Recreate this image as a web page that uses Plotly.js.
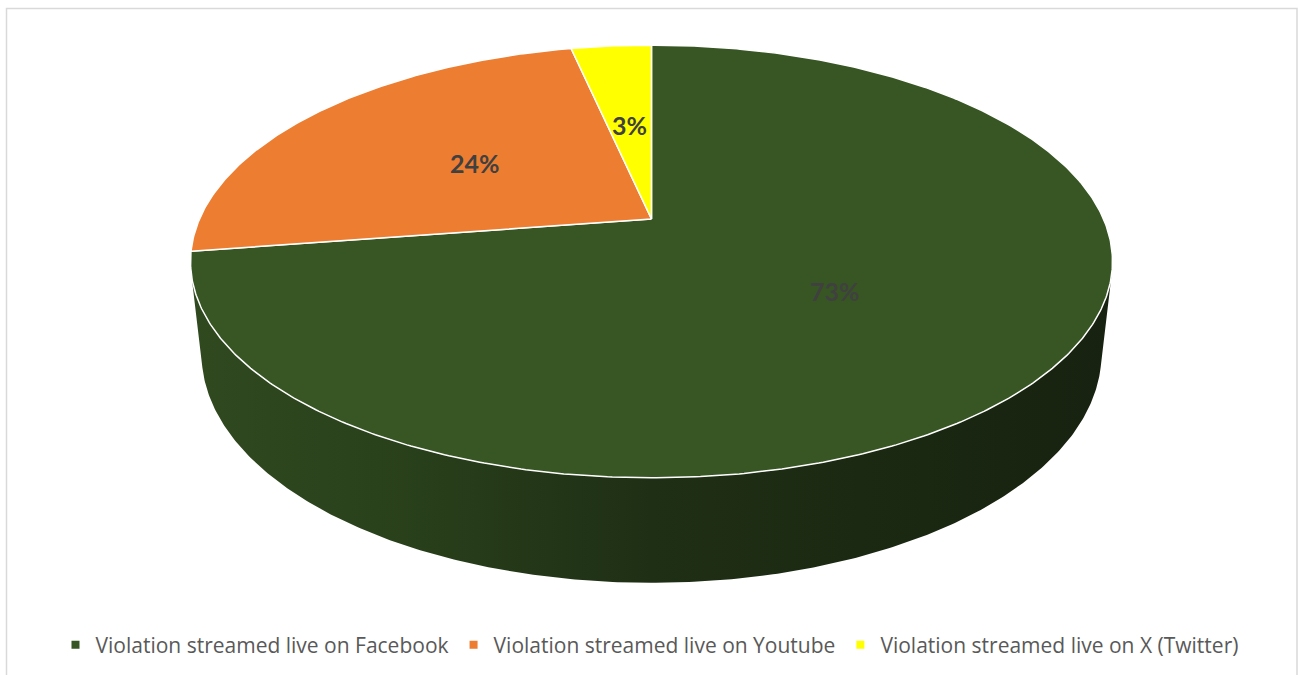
<!DOCTYPE html>
<html>
<head>
<meta charset="utf-8">
<script src="https://cdn.plot.ly/plotly-3.0.1.min.js"></script>
<style>
  html, body { margin: 0; padding: 0; background: #ffffff; }
  #chart { width: 1299px; height: 675px; }
</style>
</head>
<body>
<div id="chart"></div>
<script>
// ---------------- DATA ----------------
const categories = [
  'Violation streamed live on Facebook',
  'Violation streamed live on Youtube',
  'Violation streamed live on X (Twitter)'
];
const shares = [72.6, 24.0, 3.4];

// ---------------- STYLE ----------------
const topColors = ['#375623', '#ED7D31', '#FFFF00'];
const sideScales = [
  [[0, '#30491F'], [0.2, '#2A421C'], [0.5, '#1F2F15'], [0.8, '#1A2711'], [1, '#172210']],
  [[0, '#B5602A'], [1, '#6E3A18']],
  [[0, '#C8C800'], [1, '#7A7A00']]
];
const labelColor = '#404040';

// ---------------- GEOMETRY (3D perspective pie) ----------------
const CX = 651.5, CY = 219;     // pixel position of pie centre (top face)
const W = 452;                  // projected radius scale
const K = 0.2212;               // radius / camera distance
const TILT = 27.4 * Math.PI / 180;
const sinP = Math.sin(TILT), cosP = Math.cos(TILT);
const THICK = 0.2316;           // pie thickness relative to radius

function project(X, Y, Z) {
  const D = 1 + K * (Z * cosP - Y * sinP);
  return [CX + W * X / D, CY - W * (Z * sinP + Y * cosP) / D];
}
function rimPoint(theta, y) {
  return project(Math.sin(theta), y, Math.cos(theta));
}

const total = shares.reduce((a, b) => a + b, 0);
const angles = [];
let acc = 0;
shares.forEach(v => {
  const a0 = acc / total * 2 * Math.PI;
  acc += v;
  const a1 = acc / total * 2 * Math.PI;
  angles.push([a0, a1]);
});

// visible part of side wall
const thA = Math.acos(-K / cosP);
const thB = 2 * Math.PI - thA;

const traces = [];
const STEP = Math.PI / 360;

// side walls
angles.forEach(([a0, a1], i) => {
  const s = Math.max(a0, thA), e = Math.min(a1, thB);
  if (e <= s) return;
  const xs = [], ys = [];
  for (let t = s; t < e; t += STEP) { const p = rimPoint(t, 0); xs.push(p[0]); ys.push(p[1]); }
  let p = rimPoint(e, 0); xs.push(p[0]); ys.push(p[1]);
  for (let t = e; t > s; t -= STEP) { const q = rimPoint(t, -THICK); xs.push(q[0]); ys.push(q[1]); }
  p = rimPoint(s, -THICK); xs.push(p[0]); ys.push(p[1]);
  xs.push(xs[0]); ys.push(ys[0]);
  traces.push({
    type: 'scatter', x: xs, y: ys, mode: 'lines', fill: 'toself',
    fillgradient: { type: 'horizontal', colorscale: sideScales[i] },
    line: { width: 0, color: 'rgba(0,0,0,0)' },
    hoverinfo: 'skip', showlegend: false
  });
});

// top faces
angles.forEach(([a0, a1], i) => {
  const c = project(0, 0, 0);
  const xs = [c[0]], ys = [c[1]];
  for (let t = a0; t < a1; t += STEP) { const p = rimPoint(t, 0); xs.push(p[0]); ys.push(p[1]); }
  const p = rimPoint(a1, 0); xs.push(p[0]); ys.push(p[1]);
  xs.push(c[0]); ys.push(c[1]);
  traces.push({
    type: 'scatter', x: xs, y: ys, mode: 'lines', fill: 'toself',
    fillcolor: topColors[i],
    line: { width: 1.5, color: '#ffffff' },
    name: categories[i],
    hoverinfo: 'name', showlegend: false
  });
});

// legend entries
categories.forEach((name, i) => {
  traces.push({
    type: 'scatter', x: [null], y: [null], mode: 'markers',
    marker: { symbol: 'square', size: 8, color: topColors[i] },
    name: name, showlegend: true, hoverinfo: 'skip'
  });
});

// labels
const annotations = angles.map(([a0, a1], i) => {
  const m = (a0 + a1) / 2;
  const p = project(0.5 * Math.sin(m), 0, 0.5 * Math.cos(m));
  return {
    x: p[0], y: p[1], xref: 'x', yref: 'y',
    text: '<b>' + Math.round(shares[i] / total * 100) + '%</b>',
    showarrow: false,
    font: { family: 'Lato, "Open Sans", sans-serif', size: 25, color: labelColor },
    xanchor: 'center', yanchor: 'middle'
  };
});

const layout = {
  width: 1299, height: 675,
  margin: { l: 0, r: 0, t: 0, b: 0 },
  paper_bgcolor: '#ffffff', plot_bgcolor: '#ffffff',
  xaxis: { range: [0, 1299], visible: false, fixedrange: true },
  yaxis: { range: [675, 0], visible: false, fixedrange: true },
  showlegend: true,
  legend: {
    orientation: 'h', x: 0.5, xanchor: 'center',
    y: 1 - 645 / 675, yanchor: 'middle',
    font: { family: '"Open Sans", Lato, sans-serif', size: 21, color: '#595959' },
    itemclick: false, itemdoubleclick: false,
    bgcolor: 'rgba(0,0,0,0)'
  },
  annotations: annotations,
  shapes: [{
    type: 'rect', xref: 'x', yref: 'y', x0: 6.5, x1: 1297, y0: 8.5, y1: 700,
    line: { color: '#D9D9D9', width: 1.5 }, fillcolor: 'rgba(0,0,0,0)', layer: 'below'
  }]
};

Plotly.newPlot('chart', traces, layout, { displayModeBar: false, staticPlot: true });
</script>
</body>
</html>
